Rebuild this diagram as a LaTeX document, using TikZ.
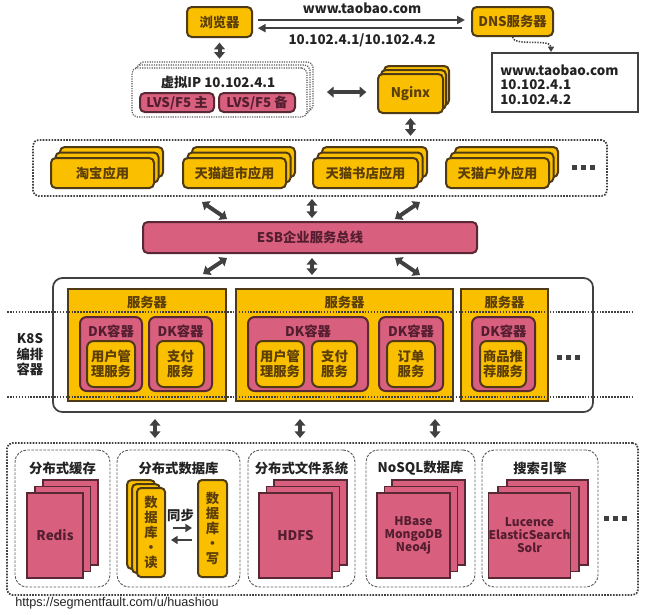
\documentclass[tikz,border=0pt]{standalone}
\usepackage{fontspec}
\setmainfont{Noto Sans CJK SC}
\newfontfamily\urlfont{Liberation Sans}
\usetikzlibrary{arrows.meta,calc}
\definecolor{yel}{RGB}{250,192,0}
\definecolor{ybord}{RGB}{78,58,20}
\definecolor{ytext}{RGB}{92,62,8}
\definecolor{pnk}{RGB}{216,96,126}
\definecolor{pbord}{RGB}{88,40,52}
\definecolor{ptext}{RGB}{84,30,48}
\definecolor{agray}{RGB}{64,64,64}
\definecolor{tgray}{RGB}{35,35,35}
\definecolor{lgray}{RGB}{90,90,90}
% box by corners: style, name, x1, y1, x2, y2, text
\newcommand\bx[7]{\node[#1, minimum width={(#5-#3)*0.75pt}, minimum height={(#6-#4)*0.75pt}] (#2) at ({(#3+#5)/2},{(#4+#6)/2}) {#7};}
\tikzset{
  fnt/.style={font=\bfseries\fontsize{10}{12}\selectfont},
  lbl/.style={fnt, text=tgray, inner sep=0pt},
  ybox/.style={fnt, draw=ybord, fill=yel, line width=1.5pt, rounded corners=3.5pt, inner sep=0pt, text=ytext, align=center},
  pbox/.style={fnt, draw=pbord, fill=pnk, line width=1.5pt, rounded corners=3.5pt, inner sep=0pt, text=ptext, align=center},
  pagebox/.style={draw=pbord, fill=pnk, line width=1.4pt, inner sep=0pt, text=ptext, align=center, font=\bfseries\fontsize{9}{9.8}\selectfont},
  serverbox/.style={draw=ybord, fill=yel, line width=1.5pt, inner sep=0pt},
  vipbox/.style={draw=lgray, fill=white, line width=0.9pt, dash pattern=on 0.9pt off 0.9pt, rounded corners=4pt, inner sep=0pt},
  dotgroup/.style={draw=agray, line width=1.3pt, dash pattern=on 1.2pt off 1pt, rounded corners=4pt, inner sep=0pt},
  dashgroup/.style={draw=lgray, fill=white, line width=0.7pt, dash pattern=on 2pt off 1pt, rounded corners=9pt, inner sep=0pt},
  dotline/.style={draw=agray, line width=1.3pt, dash pattern=on 1.2pt off 1pt},
  k8sbox/.style={draw=agray, fill=white, line width=1.3pt, rounded corners=7pt, inner sep=0pt},
  dnsbox/.style={draw=agray, fill=white, line width=1.5pt, inner sep=0pt},
  dbl/.style={draw=agray, line width=3pt, {Triangle[width=8pt,length=5pt]}-{Triangle[width=8pt,length=5pt]}},
  thinarr/.style={draw=agray, line width=1.5pt, -{Triangle[width=6pt,length=6pt]}},
  syncarr/.style={draw=agray, line width=1.8pt, -{Triangle[width=6pt,length=5pt]}},
  dotarr/.style={draw=agray, line width=1.2pt, dash pattern=on 1pt off 1pt, -{Triangle[width=4.5pt,length=4pt]}},
  sq/.style={fill=agray},
  svc/.style={ybox, rounded corners=5pt, font=\bfseries\fontsize{10}{11.5}\selectfont},
  dk/.style={pbox, rounded corners=5pt},
  vtext/.style={ybox, rounded corners=3pt, font=\bfseries\fontsize{10}{11.25}\selectfont}
}
\begin{document}
\begin{tikzpicture}[x=0.75pt,y=-0.75pt]
\useasboundingbox (0,0) rectangle (648,614);
% ---------------- top ----------------
\bx{ybox}{browser}{187}{7}{252}{37}{浏览器}
\bx{ybox}{dns}{472}{7}{553}{36}{DNS服务器}
\draw[thinarr, shorten <=3.5pt, shorten >=4.5pt] ([yshift=1.5pt]browser.east) -- ([yshift=1.5pt]browser.east -| dns.west)
  node[midway, above=4pt, lbl] (urltop) {www.taobao.com};
\draw[thinarr, shorten <=6.5pt, shorten >=3.5pt] ([yshift=-5pt]dns.west) -- ([yshift=-5pt]dns.west -| browser.east)
  node[midway, below=3pt, lbl] (iptop) {10.102.4.1/10.102.4.2};
\bx{dnsbox}{dnsres}{492}{53}{638}{112}{}
\node[lbl, align=left, anchor=west, font=\bfseries\fontsize{10}{10.9}\selectfont] (dnstext) at (500,84.5) {www.taobao.com\\10.102.4.1\\10.102.4.2};
\coordinate (dnsin) at (551,52);
\draw[dotarr] (dns.south) .. controls (514,47) and (551,38) .. (dnsin);
% virtual IP group
\draw[vipbox] (138,62) rectangle (313,111);
\draw[vipbox] (135,65) rectangle (310,114);
\bx{vipbox}{vip}{132}{68}{307}{117}{}
\node[lbl] (viptitle) at (218,82) {虚拟IP 10.102.4.1};
\bx{pbox}{lvs1}{140}{93}{214}{112}{LVS/F5 主}
\bx{pbox}{lvs2}{219}{93}{295}{112}{LVS/F5 备}
\draw[dbl, shorten <=3.5pt, shorten >=6.5pt] (browser.south) -- (browser.south |- vip.north);
% nginx
\draw[ybox] (384,66) rectangle (449,105);
\draw[ybox] (381,70) rectangle (446,109);
\bx{ybox}{nginx}{378}{74}{443}{113}{Nginx}
\draw[dbl, shorten <=14.5pt, shorten >=8pt] ([yshift=0.3pt]vip.east) -- ([yshift=0.3pt]vip.east -| nginx.west);
% ---------------- apps ----------------
\bx{dotgroup}{apps}{33}{140}{607}{196}{}
\draw[ybox] (60,147) rectangle (163,177);
\draw[ybox] (55.5,152.5) rectangle (158.5,182.5);
\bx{ybox}{app1}{51}{158}{154}{188}{淘宝应用}
\draw[ybox] (192,147) rectangle (295,177);
\draw[ybox] (187.5,152.5) rectangle (290.5,182.5);
\bx{ybox}{app2}{183}{158}{286}{188}{天猫超市应用}
\draw[ybox] (322,147) rectangle (427,177);
\draw[ybox] (317.5,152.5) rectangle (422.5,182.5);
\bx{ybox}{app3}{313}{158}{418}{188}{天猫书店应用}
\draw[ybox] (455,147) rectangle (558,177);
\draw[ybox] (450.5,152.5) rectangle (553.5,182.5);
\bx{ybox}{app4}{446}{158}{549}{188}{天猫户外应用}
\fill[sq] (572,165) rectangle (577,170);
\fill[sq] (581,165) rectangle (586,170);
\fill[sq] (590,165) rectangle (595,170);
\draw[dbl, shorten <=3pt, shorten >=2.5pt] (nginx.south) -- (nginx.south |- apps.north);
% ---------------- ESB ----------------
\bx{pbox}{esb}{143}{222}{477}{253}{ESB企业服务总线}
\coordinate (a1) at (202,202); \coordinate (e1) at (227,219);
\coordinate (a2) at (312,199); \coordinate (e2) at (312,218);
\coordinate (a3) at (420,202); \coordinate (e3) at (395,219);
\draw[dbl] (a1) -- (e1);
\draw[dbl] (a2) -- (e2);
\draw[dbl] (a3) -- (e3);
% ---------------- K8S ----------------
\bx{k8sbox}{k8s}{53}{278}{593}{412}{}
\coordinate (e4) at (227,258); \coordinate (k1) at (203,274);
\coordinate (e5) at (312,258); \coordinate (k2) at (312,275);
\coordinate (e6) at (395,258); \coordinate (k3) at (420,275);
\draw[dbl] (e4) -- (k1);
\draw[dbl] (e5) -- (k2);
\draw[dbl] (e6) -- (k3);
\bx{serverbox}{s1}{68}{289}{226}{401}{}
\bx{serverbox}{s2}{236}{289}{453}{401}{}
\bx{serverbox}{s3}{461}{289}{548}{401}{}
\node[lbl, text=ytext] (s1t) at (147,302) {服务器};
\node[lbl, text=ytext] (s2t) at (344.5,302) {服务器};
\node[lbl, text=ytext] (s3t) at (504.5,302) {服务器};
\draw[dotline] (7,312) -- (633,312);
\draw[dotline] (7,397) -- (633,397);
\bx{dk}{dk1}{80}{317}{142}{391}{}
\bx{dk}{dk2}{149}{317}{212}{391}{}
\bx{dk}{dk3}{248}{317}{368}{391}{}
\bx{dk}{dk4}{379}{317}{443}{391}{}
\bx{dk}{dk5}{472}{317}{535}{391}{}
\node[lbl, text=ptext] (dk1t) at (111,331) {DK容器};
\node[lbl, text=ptext] (dk2t) at (180.5,331) {DK容器};
\node[lbl, text=ptext] (dk3t) at (308,331) {DK容器};
\node[lbl, text=ptext] (dk4t) at (411,331) {DK容器};
\node[lbl, text=ptext] (dk5t) at (503.5,331) {DK容器};
\bx{svc}{svc1}{87}{341}{135}{387}{用户管\\理服务}
\bx{svc}{svc2}{157}{341}{204}{387}{支付\\服务}
\bx{svc}{svc3}{256}{341}{304}{387}{用户管\\理服务}
\bx{svc}{svc4}{312}{341}{357}{387}{支付\\服务}
\bx{svc}{svc5}{387}{341}{435}{387}{订单\\服务}
\bx{svc}{svc6}{480}{341}{526}{387}{商品推\\荐服务}
\fill[sq] (557,355) rectangle (562,360);
\fill[sq] (566,355) rectangle (571,360);
\fill[sq] (575,355) rectangle (580,360);
\node[lbl, align=center, font=\bfseries\fontsize{10}{11.6}\selectfont] (k8slbl) at (30,355) {K8S\\编排\\容器};
% ---------------- storage ----------------
\bx{dotgroup}{store}{7}{443}{638}{595}{}
\coordinate (k4) at (155,419); \coordinate (t1) at (155,438);
\coordinate (k5) at (300,419); \coordinate (t2) at (300,438);
\coordinate (k6) at (435,419); \coordinate (t3) at (435,438);
\draw[dbl] (k4) -- (t1);
\draw[dbl] (k5) -- (t2);
\draw[dbl] (k6) -- (t3);
\bx{dashgroup}{g1}{15}{450}{110}{587}{}
\bx{dashgroup}{g2}{117}{450}{240}{587}{}
\bx{dashgroup}{g3}{248}{450}{355}{587}{}
\bx{dashgroup}{g4}{366}{450}{475}{587}{}
\bx{dashgroup}{g5}{482}{450}{598}{587}{}
\node[lbl] (g1t) at (62.5,468) {分布式缓存};
\node[lbl] (g2t) at (178.5,468) {分布式数据库};
\node[lbl] (g3t) at (301.5,468) {分布式文件系统};
\node[lbl] (g4t) at (420.5,468) {NoSQL数据库};
\node[lbl] (g5t) at (540,468) {搜索引擎};
% Redis
\draw[pagebox] (43,480) rectangle (98,565);
\draw[pagebox] (35,486.5) rectangle (90.5,571.5);
\bx{pagebox}{redis}{27}{493}{83}{578}{\fontsize{10}{12}\selectfont Redis}
% DB read / write
\draw[ybox] (127,480) rectangle (155,569);
\draw[ybox] (132,484) rectangle (160,573);
\bx{vtext}{rd}{137}{488}{165}{577}{数\\据\\库\\·\\读}
\bx{vtext}{wr}{198}{480}{227}{577}{数\\据\\库\\·\\写}
\node[lbl] (sync) at (180.5,515) {同步};
\draw[syncarr, shorten <=5.2pt, shorten >=3.7pt] ([yshift=3.4pt]rd.east) -- ([yshift=3.4pt]rd.east -| wr.west);
\draw[syncarr, shorten <=3.7pt, shorten >=3.7pt] ([yshift=-5.6pt]rd.east -| wr.west) -- ([yshift=-5.6pt]rd.east);
% HDFS
\draw[pagebox] (274,480) rectangle (347,565);
\draw[pagebox] (266.5,486.5) rectangle (339.5,571.5);
\bx{pagebox}{hdfs}{259}{493}{332}{578}{\fontsize{10}{12}\selectfont HDFS}
% NoSQL
\draw[pagebox] (392,480) rectangle (465,565);
\draw[pagebox] (384.5,486.5) rectangle (457.5,571.5);
\bx{pagebox}{nosql}{377}{493}{450}{578}{HBase\\MongoDB\\Neo4j}
% search
\draw[pagebox] (507,480) rectangle (588,565);
\draw[pagebox] (498,486.5) rectangle (579,571.5);
\bx{pagebox}{search}{489}{493}{570}{578}{Lucence\\ElasticSearch\\Solr}
\fill[sq] (604,516) rectangle (609,521);
\fill[sq] (613,516) rectangle (618,521);
\fill[sq] (622,516) rectangle (627,521);
\node[anchor=west, font=\urlfont\fontsize{9.5}{11}\selectfont, text=tgray, inner sep=0pt] (url) at (15,603) {https://segmentfault.com/u/huashiou};
\end{tikzpicture}
\end{document}
